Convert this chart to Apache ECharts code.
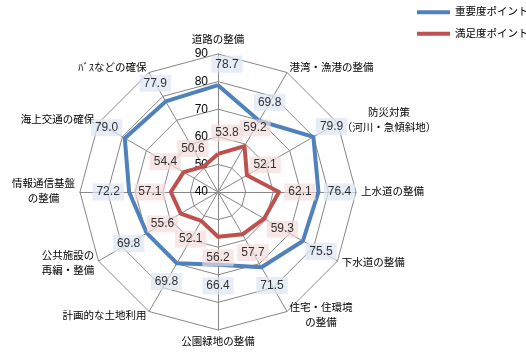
<!DOCTYPE html>
<html>
<head>
<meta charset="utf-8">
<script src="https://cdn.jsdelivr.net/npm/echarts@6/dist/echarts.min.js"></script>
<style>
    html, body { margin: 0; padding: 0; background: #fff; }
    #main { width: 526px; height: 356px; }
</style>
</head>
<body>
<div id="main"></div>
<script>
// 指標（上から時計回り）
var indicators = ['道路の整備', '港湾・漁港の整備', '防災対策\n（河川・急傾斜地）', '上水道の整備',
    '下水道の整備', '住宅・住環境\nの整備', '公園緑地の整備', '計画的な土地利用',
    '公共施設の\n再編・整備', '情報通信基盤\nの整備', '海上交通の確保', 'ﾊﾞｽなどの確保'];
var seriesNames = ['重要度ポイント', '満足度ポイント'];
var importance   = [78.7, 69.8, 79.9, 76.4, 75.5, 71.5, 66.4, 69.8, 69.8, 72.2, 79.0, 77.9];
var satisfaction = [53.8, 59.2, 52.1, 62.1, 59.3, 57.7, 56.2, 52.1, 55.6, 57.1, 54.4, 50.6];
var ticks = [40, 50, 60, 70, 80, 90];

var FONT = "'Liberation Sans', 'Noto Sans CJK JP', sans-serif";
var CENTER = [218, 192];
var RADIUS = 138;
var NAME_SIZE = 10.5;

// レーダーは反時計回りに並ぶので、順番を入れ替える
function toRadarOrder(arr) {
    var n = arr.length;
    var out = [];
    for (var j = 0; j < n; j++) {
        out.push(arr[(n - j) % n]);
    }
    return out;
}

// 複数行の名前は中央揃えにする
var nameRich = {};
function nameFormatter(name) {
    var lines = name.split('\n');
    if (lines.length == 1) {
        return name;
    }
    var maxLen = 0;
    for (var k = 0; k < lines.length; k++) {
        if (lines[k].length > maxLen) maxLen = lines[k].length;
    }
    return lines.map(function (s) { return '{w' + maxLen + '|' + s + '}'; }).join('\n');
}
for (var m = 1; m <= 12; m++) {
    nameRich['w' + m] = { width: m * NAME_SIZE, align: 'center', color: '#000',
        fontSize: NAME_SIZE, fontFamily: FONT, lineHeight: 15 };
}

// 指標の設定（最初の軸だけ目盛ラベルを出す）
var radarNames = toRadarOrder(indicators);
var indicatorOpt = [];
for (var i = 0; i < radarNames.length; i++) {
    var it = { name: radarNames[i], min: ticks[0], max: ticks[ticks.length - 1] };
    if (i == 0) {
        it.axisLabel = { show: true };
    }
    indicatorOpt.push(it);
}

// データラベル（放射方向に外側へずらす、目盛のある上の軸だけ右へ逃がす）
function labelData(values, bg) {
    var out = [];
    var n = values.length;
    for (var i = 0; i < n; i++) {
        var a = i * 2 * Math.PI / n;
        var d = 21;
        var dx = d * Math.sin(a);
        if (i == 0) dx += 9;
        out.push({
            value: [values[i], i],
            label: {
                offset: [dx, -d * Math.cos(a)],
                backgroundColor: bg
            }
        });
    }
    return out;
}

var myChart = echarts.init(document.getElementById('main'), null, { renderer: 'canvas' });
var option = {
    animation: false,
    textStyle: { fontFamily: FONT },
    legend: {
        orient: 'vertical',
        left: 417,
        top: 7,
        padding: 0,
        itemGap: 11,
        itemWidth: 33,
        itemHeight: 4,
        icon: 'rect',
        data: seriesNames,
        textStyle: { fontSize: 10.5, color: '#000', fontFamily: FONT }
    },
    radar: {
        center: CENTER,
        radius: RADIUS,
        startAngle: 90,
        shape: 'polygon',
        splitNumber: ticks.length - 1,
        indicator: indicatorOpt,
        nameGap: 5,
        axisName: {
            color: '#000',
            fontSize: NAME_SIZE,
            fontFamily: FONT,
            lineHeight: 15,
            formatter: nameFormatter,
            rich: nameRich
        },
        axisLine: { lineStyle: { color: '#868686', width: 1 } },
        splitLine: { lineStyle: { color: '#868686', width: 1 } },
        splitArea: { show: false },
        axisTick: { show: false },
        axisLabel: { show: false, color: '#000', fontSize: 12, margin: 10, fontFamily: FONT }
    },
    polar: {
        center: CENTER,
        radius: RADIUS
    },
    angleAxis: {
        type: 'category',
        data: indicators,
        startAngle: 90,
        clockwise: true,
        boundaryGap: false,
        show: false
    },
    radiusAxis: {
        min: ticks[0],
        max: ticks[ticks.length - 1],
        show: false
    },
    series: [
        {
            type: 'radar',
            symbol: 'none',
            silent: true,
            data: [
                {
                    name: seriesNames[0],
                    value: toRadarOrder(importance),
                    itemStyle: { color: '#4f81bd' },
                    lineStyle: { color: '#4f81bd', width: 4 }
                },
                {
                    name: seriesNames[1],
                    value: toRadarOrder(satisfaction),
                    itemStyle: { color: '#c0504d' },
                    lineStyle: { color: '#c0504d', width: 4 }
                }
            ]
        },
        {
            type: 'scatter',
            coordinateSystem: 'polar',
            symbolSize: 1,
            silent: true,
            itemStyle: { color: 'transparent' },
            z: 5,
            label: {
                show: true,
                position: 'inside',
                color: '#000',
                fontSize: 12,
                fontFamily: FONT,
                padding: [3, 4, 2, 4],
                formatter: function (p) { return p.value[0].toFixed(1); }
            },
            data: labelData(importance, 'rgba(220,230,242,0.9)')
        },
        {
            type: 'scatter',
            coordinateSystem: 'polar',
            symbolSize: 1,
            silent: true,
            itemStyle: { color: 'transparent' },
            z: 5,
            label: {
                show: true,
                position: 'inside',
                color: '#000',
                fontSize: 12,
                fontFamily: FONT,
                padding: [3, 4, 2, 4],
                formatter: function (p) { return p.value[0].toFixed(1); }
            },
            data: labelData(satisfaction, 'rgba(242,220,219,0.85)')
        }
    ]
};
myChart.setOption(option);
</script>
</body>
</html>
